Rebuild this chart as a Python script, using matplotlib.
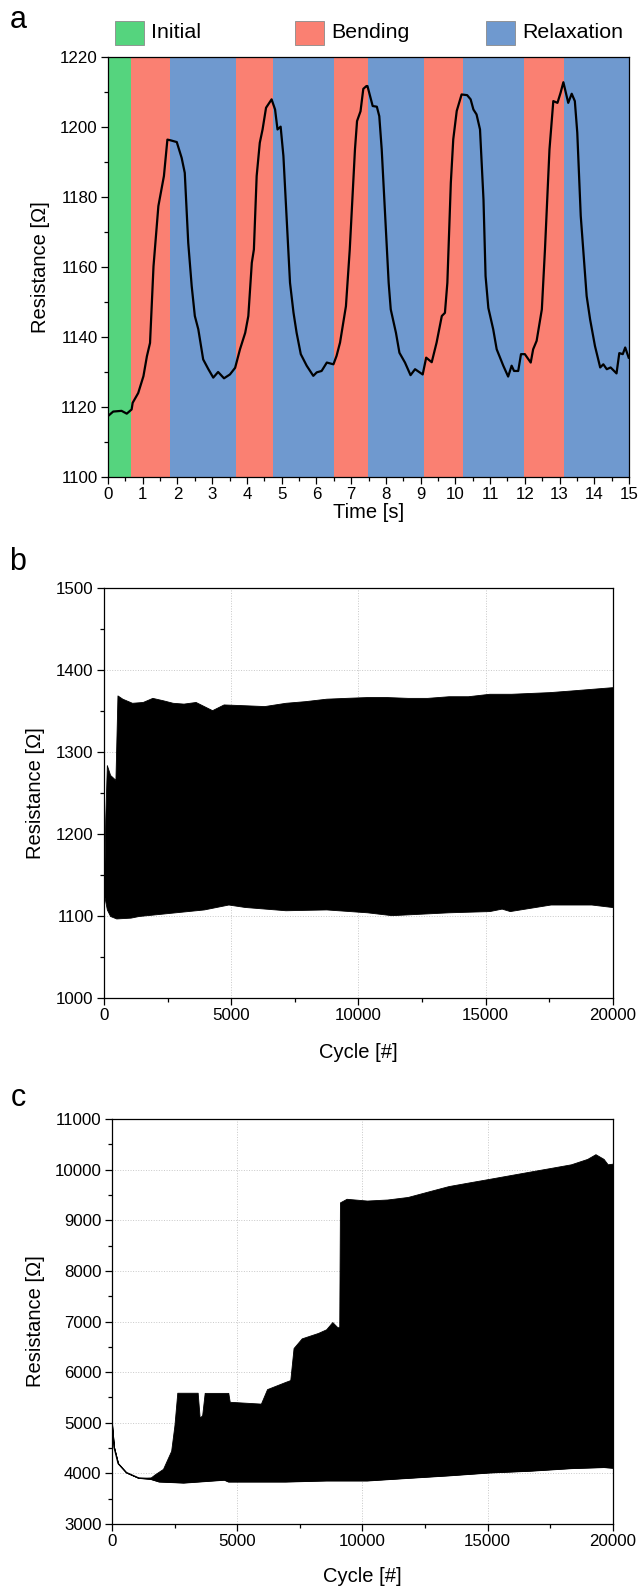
import numpy as np
import matplotlib
matplotlib.use('Agg')
import matplotlib.pyplot as plt
import matplotlib.patches as mpatches
from matplotlib.ticker import MultipleLocator

plt.rcParams['font.family'] = ['Liberation Sans', 'DejaVu Sans']

# --- panel a: single bending test ---
time_s = [0.01, 0.15, 0.39, 0.54, 0.68, 0.71, 0.87, 1.02, 1.12, 1.21, 1.31, 1.45,
          1.61, 1.71, 1.80, 1.98, 2.12, 2.21, 2.31, 2.41, 2.50, 2.60, 2.74, 2.89,
          3.03, 3.17, 3.34, 3.51, 3.66, 3.80, 3.95, 4.04, 4.14, 4.20, 4.28, 4.37,
          4.45, 4.55, 4.71, 4.81, 4.88, 4.97, 5.05, 5.14, 5.24, 5.34, 5.43, 5.55,
          5.72, 5.91, 6.01, 6.15, 6.30, 6.49, 6.58, 6.68, 6.85, 6.96, 7.11, 7.17,
          7.27, 7.35, 7.44, 7.47, 7.62, 7.74, 7.81, 7.88, 7.98, 8.08, 8.14, 8.29,
          8.39, 8.55, 8.71, 8.84, 9.06, 9.16, 9.32, 9.46, 9.61, 9.70, 9.77, 9.87,
          9.94, 10.04, 10.18, 10.34, 10.44, 10.52, 10.61, 10.71, 10.81, 10.87, 10.95,
          11.09, 11.19, 11.38, 11.52, 11.62, 11.69, 11.81, 11.89, 12.00, 12.17,
          12.24, 12.34, 12.49, 12.58, 12.71, 12.82, 12.94, 13.03, 13.11, 13.25,
          13.35, 13.44, 13.51, 13.61, 13.78, 13.88, 14.02, 14.17, 14.26, 14.36,
          14.47, 14.64, 14.72, 14.82, 14.89, 14.99]
res_a = [1117.5, 1118.7, 1118.9, 1118.1, 1119.3, 1121.2, 1124.0, 1128.8, 1134.5,
         1138.3, 1160.2, 1177.4, 1186.0, 1196.4, 1196.2, 1195.7, 1191.2, 1186.9,
         1166.9, 1154.5, 1146.0, 1142.2, 1133.6, 1130.8, 1128.4, 1130.0, 1128.2,
         1129.3, 1131.2, 1136.5, 1141.2, 1146.0, 1161.2, 1165.0, 1186.0, 1195.5,
         1199.3, 1205.5, 1207.9, 1205.0, 1199.3, 1200.1, 1191.7, 1174.6, 1155.5,
         1147.0, 1141.2, 1135.1, 1131.8, 1128.9, 1129.9, 1130.3, 1132.7, 1132.2,
         1134.6, 1138.4, 1148.8, 1165.0, 1193.6, 1201.7, 1204.5, 1210.9, 1211.7,
         1211.7, 1206.0, 1205.8, 1203.1, 1193.6, 1174.6, 1155.5, 1147.9, 1141.2,
         1135.5, 1132.7, 1129.1, 1130.8, 1129.3, 1134.1, 1132.8, 1138.4, 1146.0,
         1146.9, 1155.5, 1184.1, 1196.5, 1204.6, 1209.3, 1209.1, 1207.9, 1205.0,
         1203.6, 1199.3, 1179.3, 1157.4, 1148.3, 1142.2, 1136.5, 1131.8, 1128.7,
         1131.8, 1130.3, 1130.3, 1135.1, 1135.1, 1132.7, 1136.5, 1138.9, 1147.9,
         1165.0, 1193.6, 1207.4, 1206.9, 1209.8, 1212.8, 1206.9, 1209.5, 1207.4,
         1198.4, 1174.6, 1151.7, 1145.0, 1137.4, 1131.3, 1132.2, 1130.8, 1131.3,
         1129.6, 1135.4, 1135.1, 1137.0, 1134.1]

phase_edges = [0, 0.66, 1.78, 3.69, 4.75, 6.52, 7.49, 9.10, 10.23, 11.98, 13.13, 15]
phase_names = ['Initial', 'Bending', 'Relaxation', 'Bending', 'Relaxation', 'Bending',
               'Relaxation', 'Bending', 'Relaxation', 'Bending', 'Relaxation']
phase_colors = {'Initial': '#55d47e', 'Bending': '#fa8072', 'Relaxation': '#6f99cf'}

# --- panel b: cyclic test, envelopes of the oscillation ---
cyc_b_up = [0, 48, 112, 240, 449, 529, 721, 1100, 1522, 1900, 2324, 2700, 3125,
            3600, 4247, 4700, 5529, 6300, 7131, 7900, 8734, 9500, 10337, 11100,
            11939, 12700, 13542, 14300, 15144, 16000, 16747, 17500, 18349, 19150,
            19952, 20000]
res_b_up = [1126, 1218, 1284, 1272, 1266, 1369, 1365, 1360, 1361, 1366, 1363, 1360,
            1359, 1361, 1351, 1358, 1357, 1356, 1360, 1362, 1365, 1366, 1367, 1367,
            1366, 1366, 1368, 1368, 1371, 1371, 1372, 1373, 1375, 1377, 1379, 1379]
cyc_b_lo = [0, 112, 240, 481, 1042, 1362, 2324, 3926, 4888, 5529, 7131, 8734,
            10337, 11298, 11939, 13542, 15144, 15625, 15946, 17548, 19150, 19952, 20000]
res_b_lo = [1126, 1108, 1100, 1097, 1098, 1100, 1103, 1108, 1114, 1111, 1107, 1108,
            1104.5, 1101, 1102, 1104.5, 1106, 1109, 1106, 1114, 1114, 1111, 1111]

# --- panel c: cyclic test, envelopes of the oscillation ---
cyc_c_lo = [0, 81, 244, 570, 1059, 1547, 1873, 2850, 4480, 4642, 6922, 8550, 10180,
            11807, 13436, 15065, 16693, 18322, 19625, 20000]
res_c_lo = [4984, 4518, 4196, 4017, 3910, 3888, 3838, 3817, 3874, 3838, 3838, 3859,
            3859, 3910, 3960, 4017, 4052, 4103, 4124, 4110]
cyc_c_up = [0, 81, 244, 570, 1059, 1547, 1710, 2036, 2362, 2492, 2606, 3420, 3500,
            3600, 3700, 4642, 4700, 5945, 6189, 6922, 7117, 7248, 7574, 8225, 8550,
            8795, 9007, 9072, 9100, 9365, 10179, 10993, 11807, 12621, 13436, 14250,
            15065, 15879, 16693, 17508, 18322, 18974, 19300, 19625, 19788, 20000]
res_c_up = [4984, 4518, 4196, 4017, 3910, 3920, 3981, 4089, 4447, 4948, 5593, 5593,
            5100, 5150, 5590, 5590, 5414, 5378, 5664, 5807, 5843, 6476, 6667, 6774,
            6846, 6989, 6882, 6900, 9353, 9424, 9389, 9410, 9460, 9568, 9675, 9747,
            9818, 9890, 9962, 10033, 10105, 10212, 10305, 10212, 10105, 10119]

fig = plt.figure(figsize=(6.4, 15.88), dpi=100)

tick_fs = 12.2
label_fs = 14.5


def style_axes(ax):
  ax.tick_params(which='both', direction='out', top=False, right=False,
    labelsize=tick_fs, width=0.9, pad=2.5)
  ax.tick_params(which='major', length=5)
  ax.tick_params(which='minor', length=3)
  for sp in ax.spines.values():
    sp.set_linewidth(0.9)


# panel a
ax_a = fig.add_axes([0.16875, 0.69962, 0.8141, 0.26448])
for k, name in enumerate(phase_names):
  ax_a.axvspan(phase_edges[k], phase_edges[k + 1], color=phase_colors[name],
    linewidth=0, zorder=0)
ax_a.plot(time_s, res_a, color='k', linewidth=1.6, zorder=3)
ax_a.set_xlim(0, 15)
ax_a.set_ylim(1100, 1220)
ax_a.xaxis.set_major_locator(MultipleLocator(1))
ax_a.xaxis.set_minor_locator(MultipleLocator(0.5))
ax_a.yaxis.set_major_locator(MultipleLocator(20))
ax_a.yaxis.set_minor_locator(MultipleLocator(10))
ax_a.set_xlabel('Time [s]', fontsize=label_fs)
ax_a.set_ylabel('Resistance [Ω]', fontsize=label_fs)
ax_a.xaxis.set_label_coords(0.5, -0.062)
ax_a.yaxis.set_label_coords(-0.111, 0.5)
style_axes(ax_a)

# legend of phases above panel a
leg_x = [115, 295, 486]
for name, lx in zip(['Initial', 'Bending', 'Relaxation'], leg_x):
  rect = mpatches.Rectangle((lx / 640, 1 - 45 / 1588), 29 / 640, 24 / 1588,
    transform=fig.transFigure, facecolor=phase_colors[name], edgecolor='#8a8a8a',
    linewidth=0.6)
  fig.add_artist(rect)
  fig.text((lx + 36) / 640, 1 - 33 / 1588, name, fontsize=15.4, va='center', ha='left')

# panel b
ax_b = fig.add_axes([0.1625, 0.37154, 0.7953, 0.25819])
xb = np.union1d(cyc_b_up, cyc_b_lo)
ax_b.fill_between(xb, np.interp(xb, cyc_b_lo, res_b_lo), np.interp(xb, cyc_b_up, res_b_up),
  color='k', linewidth=0.6, edgecolor='k', zorder=3)
ax_b.set_xlim(0, 20000)
ax_b.set_ylim(1000, 1500)
ax_b.xaxis.set_major_locator(MultipleLocator(5000))
ax_b.xaxis.set_minor_locator(MultipleLocator(2500))
ax_b.yaxis.set_major_locator(MultipleLocator(100))
ax_b.yaxis.set_minor_locator(MultipleLocator(50))
ax_b.grid(True, which='major', linestyle=':', color='#c8c8c8', linewidth=0.7, zorder=0)
ax_b.set_xlabel('Cycle [#]', fontsize=label_fs)
ax_b.set_ylabel('Resistance [Ω]', fontsize=label_fs)
ax_b.xaxis.set_label_coords(0.5, -0.110)
ax_b.yaxis.set_label_coords(-0.116, 0.5)
style_axes(ax_b)

# panel c
ax_c = fig.add_axes([0.175, 0.0403, 0.7828, 0.25504])
xc = np.union1d(cyc_c_up, cyc_c_lo)
ax_c.fill_between(xc, np.interp(xc, cyc_c_lo, res_c_lo), np.interp(xc, cyc_c_up, res_c_up),
  color='k', linewidth=0.6, edgecolor='k', zorder=3)
ax_c.plot(cyc_c_lo, res_c_lo, color='k', linewidth=1.0, zorder=3)
ax_c.set_xlim(0, 20000)
ax_c.set_ylim(3000, 11000)
ax_c.xaxis.set_major_locator(MultipleLocator(5000))
ax_c.xaxis.set_minor_locator(MultipleLocator(2500))
ax_c.yaxis.set_major_locator(MultipleLocator(1000))
ax_c.yaxis.set_minor_locator(MultipleLocator(500))
ax_c.grid(True, which='major', linestyle=':', color='#c8c8c8', linewidth=0.7, zorder=0)
ax_c.set_xlabel('Cycle [#]', fontsize=label_fs)
ax_c.set_ylabel('Resistance [Ω]', fontsize=label_fs)
ax_c.xaxis.set_label_coords(0.5, -0.106)
ax_c.yaxis.set_label_coords(-0.134, 0.5)
style_axes(ax_c)

# panel letters
fig.text(18 / 640, 1 - 20 / 1588, 'a', fontsize=22, ha='center', va='center')
fig.text(18 / 640, 1 - 562 / 1588, 'b', fontsize=22, ha='center', va='center')
fig.text(18 / 640, 1 - 1098 / 1588, 'c', fontsize=22, ha='center', va='center')

fig.savefig('out.png', dpi=100)
plt.close(fig)
